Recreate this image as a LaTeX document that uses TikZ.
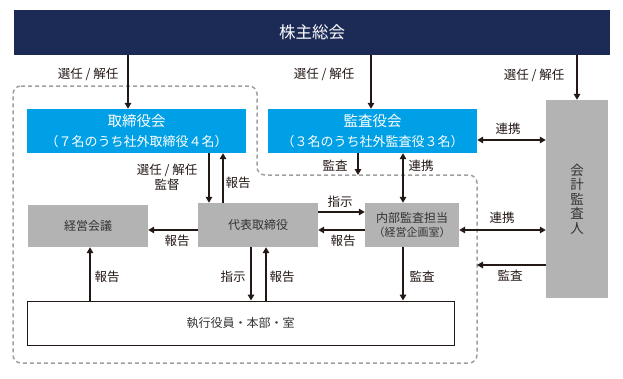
\documentclass[tikz,border=0pt]{standalone}
\usepackage{fontspec}
\setmainfont{Noto Sans CJK JP}
\usetikzlibrary{arrows.meta}
\definecolor{navyC}{HTML}{1C2A56}
\definecolor{blueC}{HTML}{00A0E6}
\definecolor{grayC}{HTML}{B3B3B3}
\definecolor{dashC}{HTML}{A0A0A0}
\definecolor{lineC}{HTML}{231815}
\definecolor{textC}{HTML}{333333}
\tikzset{
  arr/.style={line width=1.8pt, draw=lineC, -{Triangle[length=6pt,width=6.5pt]}},
  darr/.style={line width=1.8pt, draw=lineC, {Triangle[length=6pt,width=6.5pt]}-{Triangle[length=6pt,width=6.5pt]}},
  lbl/.style={font=\fontsize{12.5}{14}\selectfont, text=lineC, inner sep=0pt, align=center},
  bluebox/.style={fill=blueC, text=white, inner sep=0pt, align=center, font=\fontsize{13}{20}\selectfont},
  graybox/.style={fill=grayC, text=textC, inner sep=0pt, align=center, font=\fontsize{12}{14}\selectfont},
  whitebox/.style={draw=lineC, line width=1pt, fill=white, text=textC, inner sep=0pt, font=\fontsize{12}{14}\selectfont},
  regionline/.style={draw=dashC, line width=1.5pt, dash pattern=on 4pt off 3pt, rounded corners=8pt}
}
\begin{document}
\begin{tikzpicture}[x=1pt,y=-1pt]
\useasboundingbox (0,0) rectangle (623,378);
% dashed region
\draw[regionline] (13,86) -- (257,86) -- (257,175) -- (477,175) -- (477,363) -- (13,363) -- cycle;
% nodes
\node[fill=navyC, text=white, minimum width=596pt, minimum height=45pt, inner sep=0pt,
      font=\fontsize{16.5}{18}\selectfont] (gm) at (312,32.5) {株主総会};
\node[bluebox, minimum width=219pt, minimum height=44pt] (tb) at (136.5,131)
  {{\fontsize{14.5}{20}\selectfont 取締役会}\\{\fontsize{13}{20}\selectfont （７名のうち社外取締役４名）}};
\node[bluebox, minimum width=209pt, minimum height=44pt] (kb) at (372.5,131)
  {{\fontsize{14.5}{20}\selectfont 監査役会}\\{\fontsize{13}{20}\selectfont （３名のうち社外監査役３名）}};
\node[graybox, minimum width=62pt, minimum height=198pt, font=\fontsize{13.5}{14.5}\selectfont] (ka) at (577,199)
  {会\\計\\監\\査\\人};
\node[graybox, minimum width=120pt, minimum height=42pt] (kk) at (88,226) {経営会議};
\node[graybox, minimum width=120pt, minimum height=44pt] (dt) at (258,225) {代表取締役};
\node[graybox, minimum width=94pt, minimum height=44pt] (nb) at (412,225)
  {内部監査担当\\{\fontsize{11}{14}\selectfont （経営企画室）}};
\node[whitebox, minimum width=427pt, minimum height=44pt] (sy) at (240.5,323) {執行役員・本部・室};
% helper coordinates
\coordinate (x128) at (128,0);
\coordinate (x371) at (371,0);
\coordinate (x577) at (577,0);
\coordinate (x209) at (209,0);
\coordinate (x223) at (223,0);
\coordinate (x358) at (358,0);
\coordinate (x403) at (403,0);
\coordinate (x90) at (90,0);
\coordinate (x251) at (251,0);
\coordinate (x266) at (266,0);
\coordinate (y140) at (0,140);
\coordinate (y212) at (0,212);
\coordinate (y230) at (0,230);
\coordinate (y265) at (0,265);
\coordinate (kbend) at (358,175);
\coordinate (kaend) at (477,265);
% connectors
\draw[arr] (gm.south -| x128) -- (tb.north -| x128);
\draw[arr] (gm.south -| x371) -- (kb.north -| x371);
\draw[arr] (gm.south -| x577) -- (ka.north -| x577);
\draw[darr] (kb.east |- y140) -- (ka.west |- y140);
\draw[arr] (tb.south -| x209) -- (dt.north -| x209);
\draw[arr] (dt.north -| x223) -- (tb.south -| x223);
\draw[arr] (kb.south -| x358) -- (kbend);
\draw[darr] (kb.south -| x403) -- (nb.north -| x403);
\draw[arr] (dt.east |- y212) -- (nb.west |- y212);
\draw[arr] (nb.west |- y230) -- (dt.east |- y230);
\draw[arr] (dt.west |- y230) -- (kk.east |- y230);
\draw[darr] (nb.east |- y230) -- (ka.west |- y230);
\draw[arr] (ka.west |- y265) -- (kaend);
\draw[arr] (sy.north -| x90) -- (kk.south -| x90);
\draw[arr] (dt.south -| x251) -- (sy.north -| x251);
\draw[arr] (sy.north -| x266) -- (dt.south -| x266);
\draw[arr] (nb.south -| x403) -- (sy.north -| x403);
% labels
\node[lbl] (l1) at (88,74) {選任 / 解任};
\node[lbl] (l2) at (324,74) {選任 / 解任};
\node[lbl] (l3) at (534,75) {選任 / 解任};
\node[lbl] (l4) at (508,129) {連携};
\node[lbl] (l5) at (167,170) {選任 / 解任};
\node[lbl] (l6) at (167,185) {監督};
\node[lbl] (l7) at (238,183) {報告};
\node[lbl] (l8) at (335,166) {監査};
\node[lbl] (l9) at (421,166) {連携};
\node[lbl] (l10) at (340,202) {指示};
\node[lbl] (l11) at (343,241) {報告};
\node[lbl] (l12) at (177,241) {報告};
\node[lbl] (l13) at (502,218) {連携};
\node[lbl] (l14) at (510,276) {監査};
\node[lbl] (l15) at (107,277) {報告};
\node[lbl] (l16) at (233,277) {指示};
\node[lbl] (l17) at (282,277) {報告};
\node[lbl] (l18) at (422,277) {監査};
\end{tikzpicture}
\end{document}
